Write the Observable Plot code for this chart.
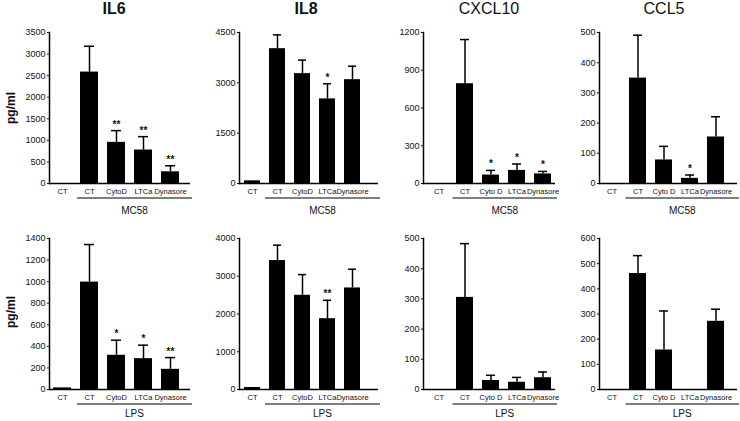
<!DOCTYPE html>
<html>
<head>
<meta charset="utf-8">
<script src="https://cdn.jsdelivr.net/npm/d3@7"></script>
<script src="https://cdn.jsdelivr.net/npm/@observablehq/plot@0.6"></script>
<style>
  body { margin: 0; background: #fff; }
  #root { position: relative; width: 740px; height: 421px; overflow: hidden; background: #fff; font-family: "Liberation Sans", Arial, sans-serif; }
  .title { position: absolute; top: 0; font-size: 16px; line-height: 18px; transform: translateX(-50%); white-space: nowrap; font-family: "Liberation Sans Narrow", "Liberation Sans", Arial, sans-serif; color: #111; }
  .ylab { position: absolute; font-size: 12px; font-weight: bold; transform: translate(-50%, -50%) rotate(-90deg); white-space: nowrap; color: #111; }
  .panel { position: absolute; }
</style>
</head>
<body>
<div id="root"></div>
<script>
// ---- data ----
const categories = ["CT0", "CT", "CytoD", "LTCa", "Dynasore"];
const labelsA = ["CT", "CT", "CytoD", "LTCa", "Dynasore"];
const labelsB = ["CT", "CT", "Cyto D", "LTCa", "Dynasore"];
const titles = ["IL6", "IL8", "CXCL10", "CCL5"];
const groups = ["MC58", "LPS"];

// Row 1: MC58
const il6Mc58 = [0, 2583, 954, 776, 271];
const il6Mc58Err = [0, 598, 272, 310, 140];
const il6Mc58Sig = ["", "", "**", "**", "**"];
const il6Mc58Ticks = [0, 500, 1000, 1500, 2000, 2500, 3000, 3500];

const il8Mc58 = [80, 4018, 3275, 2521, 3094];
const il8Mc58Err = [0, 412, 401, 452, 401];
const il8Mc58Sig = ["", "", "", "*", ""];
const il8Mc58Ticks = [0, 1500, 3000, 4500];

const cxcl10Mc58 = [0, 793, 67, 104, 76];
const cxcl10Mc58Err = [0, 351, 37, 51, 20];
const cxcl10Mc58Sig = ["", "", "*", "*", "*"];
const cxcl10Mc58Ticks = [0, 300, 600, 900, 1200];

const ccl5Mc58 = [0, 349, 78, 17, 154];
const ccl5Mc58Err = [0, 142, 45, 11, 67];
const ccl5Mc58Sig = ["", "", "", "*", ""];
const ccl5Mc58Ticks = [0, 100, 200, 300, 400, 500];

// Row 2: LPS
const il6Lps = [15, 996, 317, 286, 187];
const il6LpsErr = [0, 348, 140, 125, 109];
const il6LpsSig = ["", "", "*", "*", "**"];
const il6LpsTicks = [0, 200, 400, 600, 800, 1000, 1200, 1400];

const il8Lps = [53, 3416, 2496, 1876, 2690];
const il8LpsErr = [0, 407, 548, 487, 496];
const il8LpsSig = ["", "", "", "**", ""];
const il8LpsTicks = [0, 1000, 2000, 3000, 4000];

const cxcl10Lps = [0, 305, 30, 24, 39];
const cxcl10LpsErr = [0, 178, 17, 16, 19];
const cxcl10LpsSig = ["", "", "", "", ""];
const cxcl10LpsTicks = [0, 100, 200, 300, 400, 500];

const ccl5Lps = [0, 461, 157, 0, 271];
const ccl5LpsErr = [0, 71, 155, 0, 48];
const ccl5LpsSig = ["", "", "", "", ""];
const ccl5LpsTicks = [0, 100, 200, 300, 400, 500, 600];

// ---- layout ----
const root = document.getElementById("root");
const axisX = [49, 239, 423, 599];
const rangeW = [141, 139, 132, 138];
const padOuter = [0.285, 0.36, 0.19, 0.27];
const bandAlign = [0.27, 0.24, 0.65, 0.22];
const titleX = [114, 306, 489, 664];
const titleBold = [true, true, false, false];
const rows = [
  {top: 0, mt: 32, height: 215, mb: 32, group: groups[0], textDy: 28,
   panels: [
     [il6Mc58, il6Mc58Err, il6Mc58Sig, il6Mc58Ticks, labelsA],
     [il8Mc58, il8Mc58Err, il8Mc58Sig, il8Mc58Ticks, labelsA],
     [cxcl10Mc58, cxcl10Mc58Err, cxcl10Mc58Sig, cxcl10Mc58Ticks, labelsB],
     [ccl5Mc58, ccl5Mc58Err, ccl5Mc58Sig, ccl5Mc58Ticks, labelsB]
   ]},
  {top: 205, mt: 33, height: 216, mb: 32, group: groups[1], textDy: 25,
   panels: [
     [il6Lps, il6LpsErr, il6LpsSig, il6LpsTicks, labelsA],
     [il8Lps, il8LpsErr, il8LpsSig, il8LpsTicks, labelsA],
     [cxcl10Lps, cxcl10LpsErr, cxcl10LpsSig, cxcl10LpsTicks, labelsB],
     [ccl5Lps, ccl5LpsErr, ccl5LpsSig, ccl5LpsTicks, labelsB]
   ]}
];

titles.forEach((t, i) => {
  const d = document.createElement("div");
  d.className = "title";
  d.textContent = t;
  d.style.left = titleX[i] + "px";
  d.style.fontWeight = titleBold[i] ? "bold" : "normal";
  root.appendChild(d);
});
[108, 312].forEach(y => {
  const d = document.createElement("div");
  d.className = "ylab";
  d.textContent = "pg/ml";
  d.style.left = "11px";
  d.style.top = y + "px";
  root.appendChild(d);
});

const ml = 40, mr = 4;
rows.forEach(row => {
  row.panels.forEach(([vals, errs, sig, ticks, labels], i) => {
    const data = categories.map((c, k) => ({cat: c, v: vals[k], e: errs[k], s: sig[k]}));
    const withErr = data.filter(d => d.e > 0);
    const width = ml + rangeW[i] + mr;
    const ymax = ticks[ticks.length - 1];
    const chart = Plot.plot({
      width, height: row.height,
      marginTop: row.mt, marginBottom: row.mb, marginLeft: ml, marginRight: mr,
      style: {fontFamily: "'Liberation Sans', Arial, sans-serif", background: "transparent", overflow: "visible", maxWidth: "none", color: "#111"},
      x: {domain: categories, paddingInner: 0.35, paddingOuter: padOuter[i], align: bandAlign[i], label: null},
      y: {domain: [0, ymax], label: null},
      marks: [
        Plot.barY(data, {x: "cat", y: "v", fill: "#000"}),
        Plot.ruleX(withErr, {x: "cat", y1: "v", y2: d => d.v + d.e, stroke: "#000", strokeWidth: 1.5}),
        Plot.tickY(withErr, {x: "cat", y: d => d.v + d.e, stroke: "#000", strokeWidth: 1.5, inset: 4}),
        Plot.text(data.filter(d => d.s), {x: "cat", y: d => d.v + d.e, text: "s", dy: -3, fontSize: 10, fontWeight: "bold", lineAnchor: "bottom"}),
        Plot.ruleY([0], {stroke: "#000", strokeWidth: 1.5}),
        Plot.frame({anchor: "left", stroke: "#000", strokeWidth: 1.5}),
        Plot.axisY({ticks, tickSize: 2, tickPadding: 2, fontSize: 9, tickFormat: d => String(d), label: null}),
        Plot.axisX({tickSize: 0, tickPadding: 5, fontSize: 7.5, tickFormat: d => labels[categories.indexOf(d)], label: null})
      ]
    });
    const xs = chart.scale("x");
    const yZero = row.height - row.mb;
    const x1 = xs.apply("CT") + xs.bandwidth / 2 - 12;
    const x2 = width - mr + 2;
    const svg = d3.select(chart);
    svg.append("line").attr("x1", x1).attr("x2", x2).attr("y1", yZero + 15).attr("y2", yZero + 15)
      .attr("stroke", "#000").attr("stroke-width", 1.2);
    svg.append("text").attr("x", (x1 + x2) / 2).attr("y", yZero + row.textDy).attr("text-anchor", "middle")
      .attr("dominant-baseline", "middle").attr("font-size", 10).attr("fill", "#111").text(row.group);
    const wrap = document.createElement("div");
    wrap.className = "panel";
    wrap.style.left = (axisX[i] - ml) + "px";
    wrap.style.top = row.top + "px";
    wrap.appendChild(chart);
    root.appendChild(wrap);
  });
});
</script>
</body>
</html>
